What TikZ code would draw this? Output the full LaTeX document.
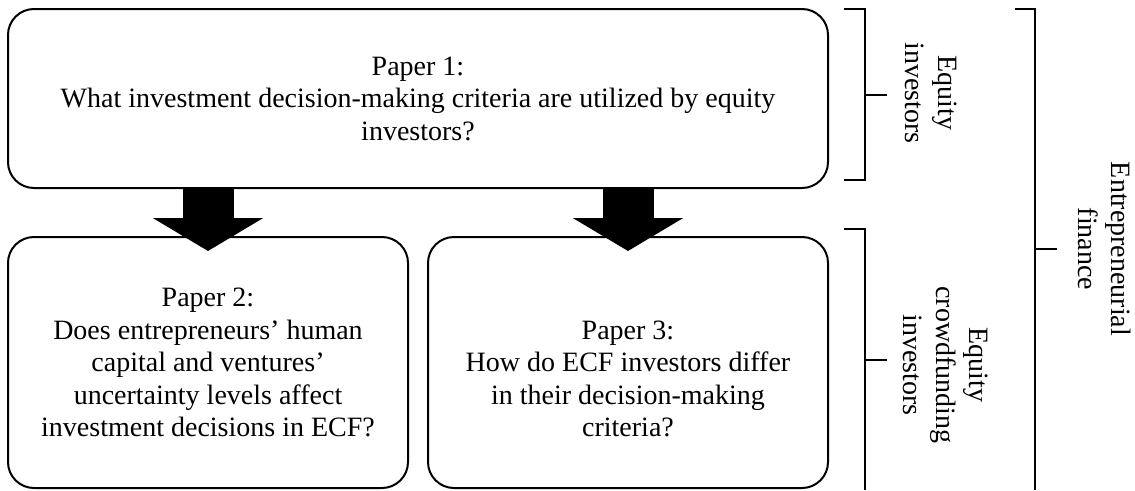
\documentclass[tikz,border=0pt]{standalone}
\usepackage{fontspec}
\setmainfont{Liberation Serif}
\usetikzlibrary{arrows.meta}
\begin{document}
\begin{tikzpicture}[x=1pt,y=-1pt,
  box/.style={draw=black, line width=2pt, rounded corners=26pt, align=center,
    inner sep=0pt, font=\fontsize{28}{32.5}\selectfont},
  bigarrow/.style={line width=51pt, draw=black, -{Triangle[width=109pt,length=33pt]}},
  brack/.style={line width=2pt, draw=black},
  side/.style={rotate=-90, align=center, inner sep=0pt, font=\fontsize{28}{33}\selectfont}]
\useasboundingbox (0,0) rectangle (1135,490);
% boxes
\node[box, minimum width=820pt, minimum height=179pt] (p1) at (418,98.5)
  {Paper 1:\\What investment decision-making criteria are utilized by equity\\investors?};
\node[box, minimum width=400pt, minimum height=251pt] (p2) at (208,362.5)
  {Paper 2:\\Does entrepreneurs’ human\\capital and ventures’\\uncertainty levels affect\\investment decisions in ECF?};
\node[box, minimum width=400pt, minimum height=251pt] (p3) at (628,362.5)
  {\phantom{Paper 3:}\\Paper 3:\\How do ECF investors differ\\in their decision-making\\criteria?};
% block arrows
\draw[bigarrow] (p1.south -| p2.north) -- ([yshift=-15pt]p2.north);
\draw[bigarrow] (p1.south -| p3.north) -- ([yshift=-15pt]p3.north);
% brackets
\draw[brack] (844,9) -- (865,9) -- (865,180) -- (844,180);
\draw[brack] (865,95) -- (887,95);
\draw[brack] (844,229) -- (865,229) -- (865,490);
\draw[brack] (865,360) -- (887,360);
\draw[brack] (1015,9) -- (1035,9) -- (1035,490);
\draw[brack] (1035,249) -- (1057,249);
% side labels
\node[side] (l1) at (931,93) {Equity\\investors};
\node[side] (l2) at (946,365) {Equity\\crowdfunding\\investors};
\node[side] (l3) at (1105,249) {Entrepreneurial\\finance};
\end{tikzpicture}
\end{document}
